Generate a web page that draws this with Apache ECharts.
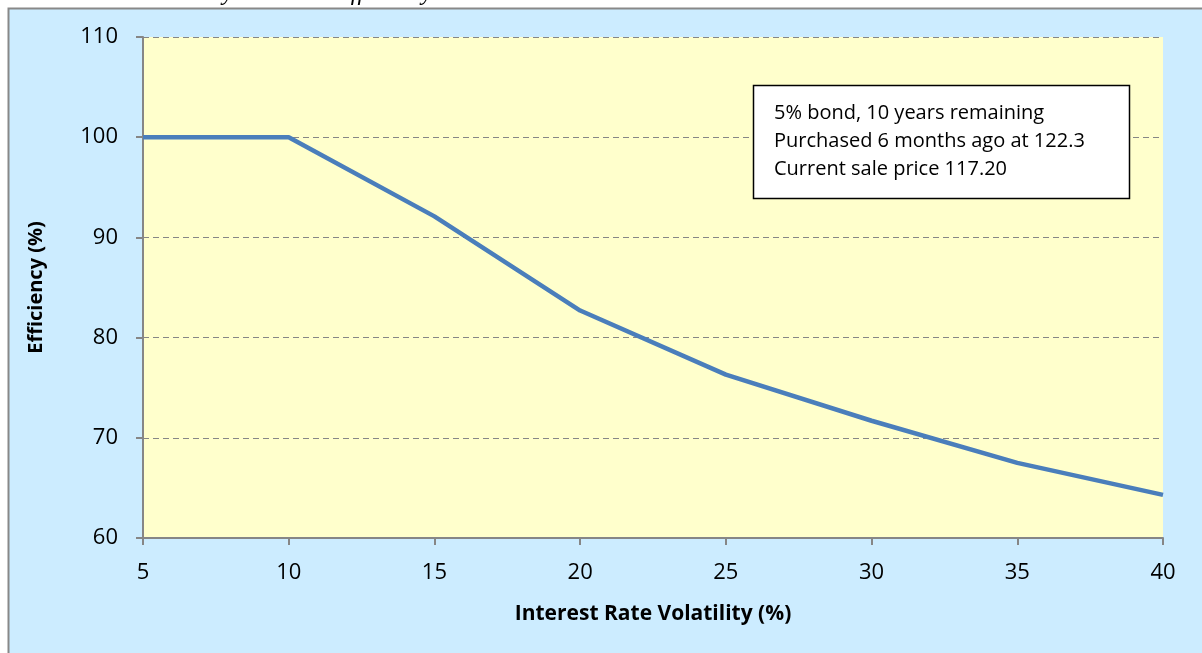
<!DOCTYPE html>
<html lang="en">
<head>
    <meta charset="UTF-8">
    <title>Efficiency vs Volatility</title>
    <script src="https://cdn.jsdelivr.net/npm/echarts@6/dist/echarts.min.js"></script>
    <style>
        html, body { margin: 0; padding: 0; background: #fff; }
    </style>
</head>
<body>
<div id="main" style="width: 1202px;height:653px;"></div>

<script type="text/javascript">
    // chart data
    var volatility = [5, 10, 15, 20, 25, 30, 35, 40];
    var efficiency = [100, 100, 92.1, 82.7, 76.3, 71.7, 67.5, 64.3];
    var noteLines = ['5% bond, 10 years remaining', 'Purchased 6 months ago at 122.3', 'Current sale price 117.20'];

    var myChart = echarts.init(document.getElementById('main'));
    var pts = volatility.map(function (v, i) { return [v, efficiency[i]]; });
    var font = 'Open Sans';

    var option = {
        animation: false,
        backgroundColor: '#fff',
        graphic: [
            // caption text above the chart (mostly cut off)
            { type: 'text', left: 18, top: -18, z: 0,
              style: { text: 'Interest Rate Volatility Increases Efficiency', font: 'italic 24px "Liberation Serif", serif', fill: '#000' } },
            // blue chart area
            { type: 'rect', shape: { x: 8.5, y: 8.5, width: 1210, height: 660 }, z: -10,
              style: { fill: '#CCECFF', stroke: '#888', lineWidth: 2 } },
            // note box
            { type: 'rect', shape: { x: 753.5, y: 85.5, width: 376, height: 113 }, z: 10,
              style: { fill: '#fff', stroke: '#000', lineWidth: 1.5 } },
            { type: 'text', left: 774, top: 99, z: 11,
              style: { text: noteLines.join('\n'), font: '20px "Open Sans"', lineHeight: 28, fill: '#000' } }
        ],
        grid: {
            left: 143, right: 39, top: 37, bottom: 115,
            show: true, backgroundColor: '#FFFFCC', borderWidth: 0
        },
        xAxis: {
            type: 'value', min: 5, max: 40, interval: 5,
            name: 'Interest Rate Volatility (%)', nameLocation: 'middle', nameGap: 66,
            nameTextStyle: { fontFamily: font, fontWeight: 'bold', fontSize: 21, color: '#000' },
            axisLine: { show: true, lineStyle: { color: '#868686', width: 2 } },
            axisTick: { show: true, length: 7, lineStyle: { color: '#868686', width: 2 } },
            axisLabel: { fontFamily: font, fontSize: 22, color: '#000', margin: 24 },
            splitLine: { show: false }
        },
        yAxis: {
            type: 'value', min: 60, max: 110, interval: 10,
            name: 'Efficiency (%)', nameLocation: 'middle', nameGap: 97, nameRotate: 90,
            nameTextStyle: { fontFamily: font, fontWeight: 'bold', fontSize: 20, color: '#000' },
            axisLine: { show: true, lineStyle: { color: '#868686', width: 2 } },
            axisTick: { show: true, length: 7, lineStyle: { color: '#868686', width: 2 } },
            axisLabel: { fontFamily: font, fontSize: 22, color: '#000', margin: 25 },
            splitLine: { show: true, lineStyle: { color: '#868686', type: [6, 4], width: 1 } }
        },
        series: [
            {
                type: 'line',
                data: pts,
                symbol: 'none',
                lineStyle: { color: '#4A7EBB', width: 4.5 },
                z: 5
            }
        ]
    };
    myChart.setOption(option);
</script>
</body>
</html>
